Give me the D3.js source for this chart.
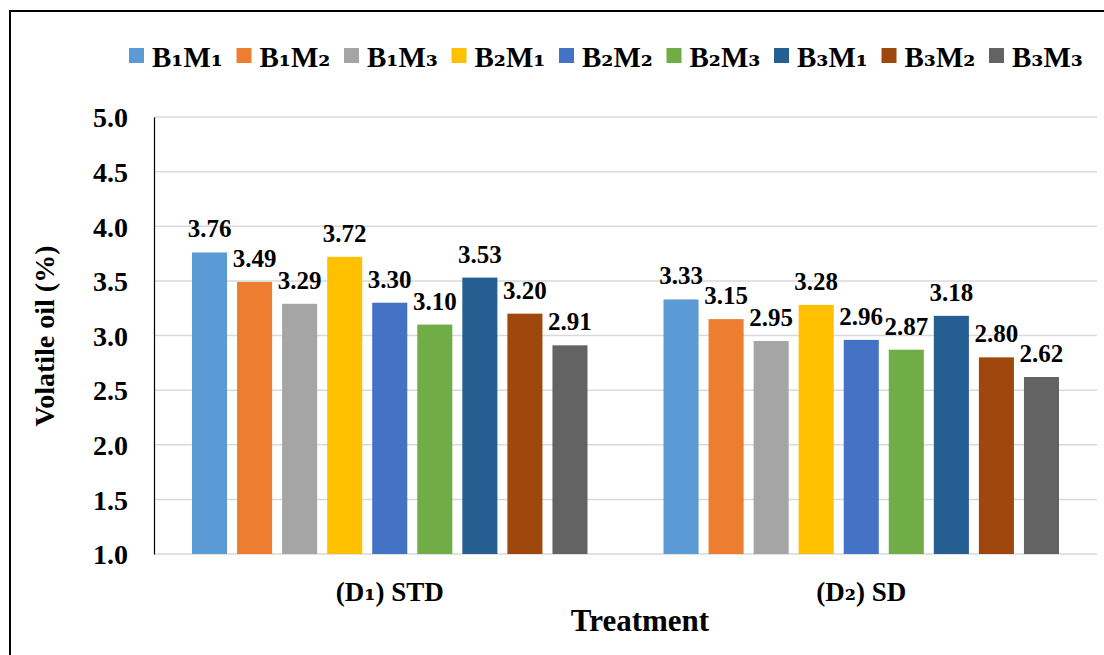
<!DOCTYPE html>
<html>
<head>
<meta charset="utf-8">
<script src="https://cdn.jsdelivr.net/npm/d3@7"></script>
<style>
  body { margin: 0; background: #fff; }
  svg { display: block; }
</style>
</head>
<body>
<svg id="chart" width="1104" height="655"></svg>
<script>
// ---- data ----
const categories = ["(D\u2081) STD", "(D\u2082) SD"];
const series = ["B\u2081M\u2081", "B\u2081M\u2082", "B\u2081M\u2083", "B\u2082M\u2081", "B\u2082M\u2082", "B\u2082M\u2083", "B\u2083M\u2081", "B\u2083M\u2082", "B\u2083M\u2083"];
const valuesD1 = [3.76, 3.49, 3.29, 3.72, 3.30, 3.10, 3.53, 3.20, 2.91];
const valuesD2 = [3.33, 3.15, 2.95, 3.28, 2.96, 2.87, 3.18, 2.80, 2.62];
const yTicks = [1.0, 1.5, 2.0, 2.5, 3.0, 3.5, 4.0, 4.5, 5.0];
const colors = ["#5B9BD5", "#ED7D31", "#A5A5A5", "#FFC000", "#4472C4", "#70AD47", "#255E91", "#9E480E", "#636363"];
const yTitle = "Volatile oil (%)";
const xTitle = "Treatment";

const allValues = [valuesD1, valuesD2];
const FONT = "'Liberation Serif', 'Times New Roman', serif";
const SUBFONT = "'DejaVu Serif', 'Liberation Serif', serif";

const svg = d3.select("#chart");

// fills a text element with runs; subscript digits get their own tspan
function richText(sel, str) {
  sel.text(null);
  const runs = str.match(/[\u2080-\u2089]+|[^\u2080-\u2089]+/g) || [];
  runs.forEach(r => {
    const sub = /[\u2080-\u2089]/.test(r);
    const t = sel.append("tspan").text(r);
    if (sub) t.attr("font-family", SUBFONT).style("font-size", "0.95em").attr("baseline-shift", "0.03em");
  });
}

// outer frame
svg.append("rect").attr("x", 10).attr("y", 11).attr("width", 1200).attr("height", 1000)
  .attr("fill", "none").attr("stroke", "#000").attr("stroke-width", 2);

const pLeft = 154, pRight = 1097, pTop = 117, pBottom = 554;

const y = d3.scaleLinear().domain([1, 5]).range([pBottom, pTop]);
const x0 = d3.scaleBand().domain(categories).range([pLeft, pRight]).paddingInner(0.1612).paddingOuter(0.0806);
const x1 = d3.scaleBand().domain(series).range([0, x0.bandwidth()]).paddingInner(0.222).paddingOuter(0);
const color = d3.scaleOrdinal().domain(series).range(colors);

// gridlines
svg.append("g").selectAll("line").data(yTicks).join("line")
  .attr("x1", pLeft).attr("x2", pRight)
  .attr("y1", d => y(d)).attr("y2", d => y(d))
  .attr("stroke", "#d9d9d9").attr("stroke-width", 1.5);

// y axis
const yAxis = d3.axisLeft(y).tickValues(yTicks).tickFormat(d3.format(".1f")).tickSize(0).tickPadding(26);
const gy = svg.append("g").attr("transform", `translate(${pLeft},0)`).call(yAxis);
gy.select(".domain").attr("stroke", "#000").attr("stroke-width", 1.2);
gy.attr("font-family", FONT).attr("font-size", 28).attr("font-weight", "bold");
gy.selectAll("text").attr("dy", "0.35em").attr("fill", "#000");

// bars
const groups = svg.append("g").selectAll("g").data(categories).join("g")
  .attr("transform", d => `translate(${x0(d)},0)`);

groups.selectAll("rect").data((d, i) => series.map((s, j) => ({ s, v: allValues[i][j] }))).join("rect")
  .attr("x", d => x1(d.s)).attr("width", x1.bandwidth())
  .attr("y", d => y(d.v)).attr("height", d => y(1) - y(d.v))
  .attr("fill", d => color(d.s));

groups.selectAll("text").data((d, i) => series.map((s, j) => ({ s, v: allValues[i][j] }))).join("text")
  .attr("x", d => x1(d.s) + x1.bandwidth() / 2)
  .attr("y", d => y(d.v) - 15)
  .attr("text-anchor", "middle")
  .attr("font-family", FONT).attr("font-weight", "bold").attr("font-size", 25)
  .text(d => d.v.toFixed(2));

// x category labels
const xAxis = d3.axisBottom(x0).tickSize(0).tickPadding(0);
const gx = svg.append("g").attr("transform", `translate(0,${pBottom})`).call(xAxis);
gx.select(".domain").remove();
gx.attr("font-family", FONT).attr("font-size", 27).attr("font-weight", "bold");
gx.selectAll("text").attr("dy", null).attr("y", 47).attr("fill", "#000").each(function(d) { richText(d3.select(this), d); });

// titles
svg.append("text").attr("x", 640).attr("y", 631).attr("text-anchor", "middle")
  .attr("font-family", FONT).attr("font-weight", "bold").attr("font-size", 31).text(xTitle);
svg.append("text").attr("transform", "translate(54,336) rotate(-90)").attr("text-anchor", "middle")
  .attr("font-family", FONT).attr("font-weight", "bold").attr("font-size", 28).text(yTitle);

// legend
const legendX = d3.scalePoint().domain(series).range([129, 989]);
const lg = svg.append("g").selectAll("g").data(series).join("g")
  .attr("transform", d => `translate(${legendX(d)},0)`);
lg.append("rect").attr("x", 0).attr("y", 48).attr("width", 15).attr("height", 15).attr("fill", d => color(d));
lg.append("text").attr("x", 23).attr("y", 67)
  .attr("font-family", FONT).attr("font-weight", "bold").attr("font-size", 29)
  .each(function(d) { richText(d3.select(this), d); });
</script>
</body>
</html>
